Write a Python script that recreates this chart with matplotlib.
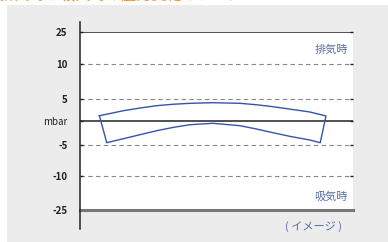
import numpy as np
import matplotlib.pyplot as plt
from matplotlib.patches import Rectangle

plt.rcParams['font.family'] = ['Noto Sans CJK JP', 'DejaVu Sans']

# y axis values (non-linear spacing in the picture)
tick_vals = [-25, -10, -5, 0, 5, 10, 25]
tick_labels = ['-25', '-10', '-5', 'mbar', '5', '10', '25']
tick_pos = [0, 34, 65, 89, 111, 146, 178]
solid_vals = [25, 0]
dashed_vals = [10, 5, -5, -10]

# band outline (x in %, y in mbar)
top_x = [7.1, 15.9, 22.0, 28.1, 34.0, 40.3, 48.7, 58.6, 64.5, 70.7, 76.9, 84.2, 90.1]
top_y = [1.2, 2.34, 2.95, 3.48, 3.8, 4.02, 4.16, 4.02, 3.7, 3.25, 2.7, 2.05, 1.14]
bot_x = [9.8, 15.9, 22.0, 28.1, 34.0, 40.3, 48.7, 58.6, 64.5, 70.7, 76.9, 84.2, 88.0]
bot_y = [-4.52, -3.69, -2.85, -2.02, -1.35, -0.77, -0.48, -0.98, -1.65, -2.44, -3.2, -3.96, -4.52]


def fwd(v):
    return np.interp(v, tick_vals, tick_pos)


def inv(p):
    return np.interp(p, tick_pos, tick_vals)


W, H = 388, 242
fig = plt.figure(figsize=(W / 100, H / 100), dpi=100)
fig.patch.set_facecolor('white')
bg = Rectangle((7 / W, 0), 1, 1 - 5 / H, transform=fig.transFigure,
               facecolor='#ececec', edgecolor='none', zorder=-10)
fig.patches.append(bg)

# cut-off orange heading at the very top
fig.text(0.0, 1 + 0.5 / H, '排気時と吸気時の圧力変化イメージ', color='#f39a3a',
         fontsize=11, va='baseline', ha='left')

ax = fig.add_axes([80 / W, 32 / H, 273 / W, 178 / H])
ax.set_zorder(5)
ax.set_facecolor('white')
ax.set_yscale('function', functions=(fwd, inv))
ax.set_ylim(-25, 25)
ax.set_xlim(0, 100)

for v in solid_vals:
    ax.axhline(v, color='#222222', lw=1.1, zorder=2)
ax.axhline(-25, color='#777777', lw=2.2, zorder=2, clip_on=False)
for v in dashed_vals:
    ax.axhline(v, color='#888888', lw=0.8, dashes=(4, 3), zorder=1)

xs = top_x + bot_x[::-1] + top_x[:1]
ys = top_y + bot_y[::-1] + top_y[:1]
ax.plot(xs, ys, color='#3555a8', lw=1.0, zorder=3)

for s in ax.spines.values():
    s.set_visible(False)
ax.plot([0, 0], [-19 / 178, 1 + 10 / 178], transform=ax.transAxes,
        color='#222222', lw=1.1, clip_on=False, zorder=4)

ax.set_xticks([])
ax.set_yticks(tick_vals)
ax.set_yticklabels(tick_labels)
ax.tick_params(axis='y', direction='in', length=2.5, width=1, color='#222222',
               pad=9, labelsize=7, labelcolor='#222222', right=True)
for lab in ax.get_yticklabels():
    if lab.get_text() != 'mbar':
        lab.set_fontweight('bold')

ax.text(0.92, 0.9, '排気時', transform=ax.transAxes, color='#5a6ea8',
        fontsize=8, ha='center', va='center')
ax.text(0.92, 0.075, '吸気時', transform=ax.transAxes, color='#5a6ea8',
        fontsize=8, ha='center', va='center')
ax.text(0.855, -0.095, '( イメージ )', transform=ax.transAxes, color='#5a6ea8',
        fontsize=8, ha='center', va='center')

fig.savefig('out.png', dpi=100)
